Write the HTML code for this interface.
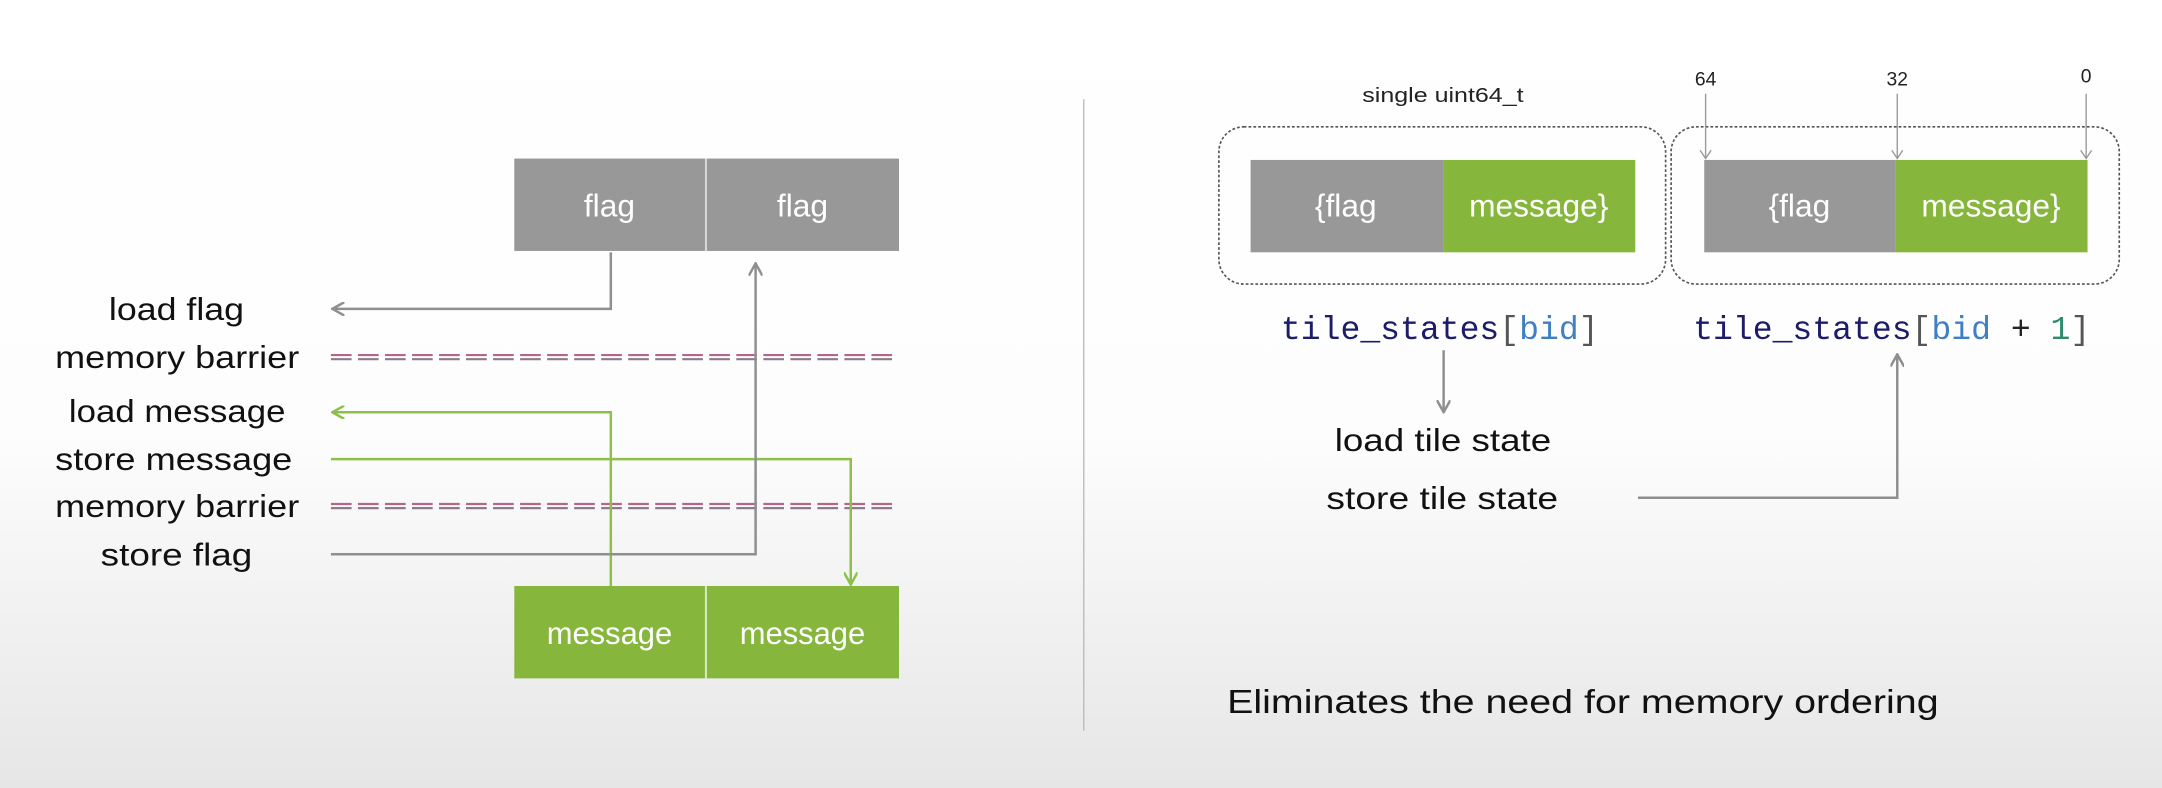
<!DOCTYPE html>
<html><head><meta charset="utf-8"><style>
html,body{margin:0;padding:0;}
body{width:2162px;height:788px;overflow:hidden;}
svg{display:block;}
text{font-family:"Liberation Sans",sans-serif;}
.mono{font-family:"Liberation Mono",monospace;}
</style></head><body>
<svg width="2162" height="788" viewBox="0 0 1568 571.5" preserveAspectRatio="none" xmlns="http://www.w3.org/2000/svg">
<defs>
<linearGradient id="bg" x1="0" y1="0" x2="0" y2="1">
<stop offset="0" stop-color="#ffffff"/><stop offset="0.55" stop-color="#fdfdfd"/><stop offset="1" stop-color="#e6e6e6"/>
</linearGradient>
<marker id="ag" markerWidth="10" markerHeight="10" refX="8" refY="5" orient="auto" markerUnits="userSpaceOnUse"><path d="M0,0 L9,5 L0,10" fill="none" stroke="#8f8f8f" stroke-width="1.8"/></marker>
<marker id="agr" markerWidth="10" markerHeight="10" refX="8" refY="5" orient="auto" markerUnits="userSpaceOnUse"><path d="M0,0 L9,5 L0,10" fill="none" stroke="#8cc04a" stroke-width="1.8"/></marker>
</defs>
<rect width="1568" height="571.5" fill="url(#bg)"/>

<rect x="373" y="115" width="279" height="67" fill="#989898"/>
<line x1="512" y1="115" x2="512" y2="182" stroke="#d8d8d8" stroke-width="1.5"/>
<text x="442" y="157" fill="#fff" font-size="23" text-anchor="middle">flag</text>
<text x="582" y="157" fill="#fff" font-size="23" text-anchor="middle">flag</text>
<rect x="373" y="425" width="279" height="67" fill="#86b73c"/>
<line x1="512" y1="425" x2="512" y2="492" stroke="#d8e8c0" stroke-width="1.5"/>
<text x="442" y="467" fill="#fff" font-size="23" text-anchor="middle" textLength="91" lengthAdjust="spacingAndGlyphs">message</text>
<text x="582" y="467" fill="#fff" font-size="23" text-anchor="middle" textLength="91" lengthAdjust="spacingAndGlyphs">message</text>

<g font-size="23" fill="#111" lengthAdjust="spacingAndGlyphs">
<text x="79" y="232" textLength="98" lengthAdjust="spacingAndGlyphs">load flag</text>
<text x="40" y="267" textLength="177" lengthAdjust="spacingAndGlyphs">memory barrier</text>
<text x="50" y="306" textLength="157" lengthAdjust="spacingAndGlyphs">load message</text>
<text x="40" y="341" textLength="172" lengthAdjust="spacingAndGlyphs">store message</text>
<text x="40" y="375" textLength="177" lengthAdjust="spacingAndGlyphs">memory barrier</text>
<text x="73" y="410" textLength="110" lengthAdjust="spacingAndGlyphs">store flag</text>
</g>

<g stroke-width="1.6" stroke-dasharray="15 4.6">
<line x1="240" y1="257.5" x2="650" y2="257.5" stroke="#b2668a"/>
<line x1="240" y1="260.5" x2="650" y2="260.5" stroke="#8a7a8a"/>
<line x1="240" y1="365.5" x2="650" y2="365.5" stroke="#b2668a"/>
<line x1="240" y1="368.5" x2="650" y2="368.5" stroke="#8a7a8a"/>
</g>

<polyline points="443,183 443,224 242,224" fill="none" stroke="#8f8f8f" stroke-width="1.8" marker-end="url(#ag)"/>
<polyline points="443,425 443,299 242,299" fill="none" stroke="#8cc04a" stroke-width="1.8" marker-end="url(#agr)"/>
<polyline points="240,333 617,333 617,423" fill="none" stroke="#8cc04a" stroke-width="1.8" marker-end="url(#agr)"/>
<polyline points="240,402 548,402 548,192" fill="none" stroke="#8f8f8f" stroke-width="1.8" marker-end="url(#ag)"/>

<line x1="786" y1="72" x2="786" y2="530" stroke="#bbbbbb" stroke-width="1"/>

<text x="988" y="74" font-size="15" fill="#222" textLength="117" lengthAdjust="spacingAndGlyphs">single uint64_t</text>
<rect x="884" y="92" width="324" height="114" rx="18" fill="none" stroke="#555" stroke-width="1.2" stroke-dasharray="2 1.5"/>
<rect x="1212" y="92" width="325" height="114" rx="18" fill="none" stroke="#555" stroke-width="1.2" stroke-dasharray="2 1.5"/>
<rect x="907" y="116" width="140" height="67" fill="#989898"/>
<rect x="1047" y="116" width="139" height="67" fill="#86b73c"/>
<rect x="1236" y="116" width="139" height="67" fill="#989898"/>
<rect x="1375" y="116" width="139" height="67" fill="#86b73c"/>
<g font-size="23" fill="#fff" text-anchor="middle">
<text x="976" y="157">{flag</text>
<text x="1116" y="157">message}</text>
<text x="1305" y="157">{flag</text>
<text x="1444" y="157">message}</text>
</g>
<g font-size="14" fill="#222" text-anchor="middle">
<text x="1237" y="62">64</text><text x="1376" y="62">32</text><text x="1513" y="60">0</text>
</g>
<g stroke="#999" stroke-width="1" fill="none">
<polyline points="1237,68 1237,115"/><polyline points="1233,109 1237,115 1241,109"/>
<polyline points="1376,68 1376,115"/><polyline points="1372,109 1376,115 1380,109"/>
<polyline points="1513,68 1513,115"/><polyline points="1509,109 1513,115 1517,109"/>
</g>
<text class="mono" x="929" y="246" font-size="24" fill="#1c1c6a">tile_states<tspan fill="#555">[</tspan><tspan fill="#3f7fc4">bid</tspan><tspan fill="#555">]</tspan></text>
<text class="mono" x="1228" y="246" font-size="24" fill="#1c1c6a">tile_states<tspan fill="#555">[</tspan><tspan fill="#3f7fc4">bid</tspan> <tspan fill="#222">+</tspan> <tspan fill="#2e8a6a">1</tspan><tspan fill="#555">]</tspan></text>
<line x1="1047" y1="254" x2="1047" y2="298" stroke="#8f8f8f" stroke-width="1.8" marker-end="url(#ag)"/>
<text x="968" y="327" font-size="23" fill="#111" textLength="157" lengthAdjust="spacingAndGlyphs">load tile state</text>
<text x="962" y="369" font-size="23" fill="#111" textLength="168" lengthAdjust="spacingAndGlyphs">store tile state</text>
<polyline points="1188,361 1376,361 1376,258" fill="none" stroke="#8f8f8f" stroke-width="1.8" marker-end="url(#ag)"/>
<text x="890" y="517" font-size="24" fill="#111" textLength="516" lengthAdjust="spacingAndGlyphs">Eliminates the need for memory ordering</text>
</svg>
</body></html>
